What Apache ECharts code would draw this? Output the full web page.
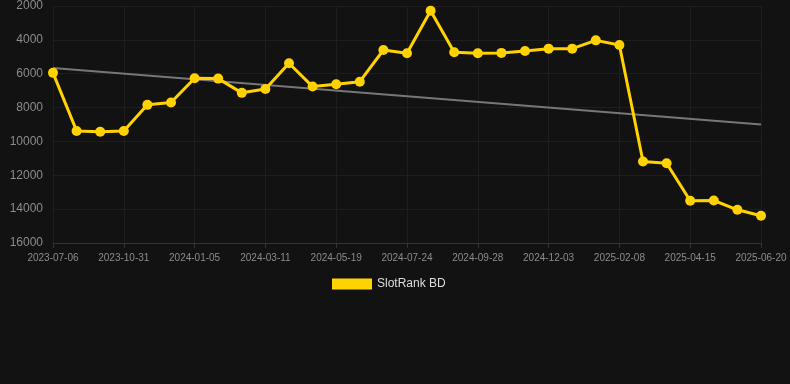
<!DOCTYPE html>
<html><head><meta charset="utf-8">
<script src="https://cdn.jsdelivr.net/npm/echarts@6/dist/echarts.min.js"></script>
<style>html,body{margin:0;padding:0;background:#121212;}#c{width:790px;height:384px;}</style>
</head><body><div id="c"></div>
<script>
const categories = ["2023-07-06","2023-08-14","2023-09-22","2023-10-31","2023-11-22","2023-12-14","2024-01-05","2024-01-27","2024-02-18","2024-03-11","2024-04-03","2024-04-26","2024-05-19","2024-06-10","2024-07-02","2024-07-24","2024-08-15","2024-09-06","2024-09-28","2024-10-20","2024-11-11","2024-12-03","2024-12-25","2025-01-17","2025-02-08","2025-03-02","2025-03-24","2025-04-15","2025-05-07","2025-05-29","2025-06-20"];
const rankValues = [5950,9380,9430,9380,7840,7700,6270,6290,7130,6900,5380,6760,6620,6470,4600,4790,2280,4730,4790,4770,4660,4520,4520,4030,4300,11190,11290,13500,13490,14040,14390];
const yTicks = [2000,16000,2000]; // min, max, interval
const seriesName = "SlotRank BD";

// linear regression trend
const n = rankValues.length;
const mx = (n-1)/2;
const my = rankValues.reduce((a,b)=>a+b,0)/n;
let sxy=0,sxx=0;
rankValues.forEach((v,i)=>{sxy+=(i-mx)*(v-my);sxx+=(i-mx)*(i-mx);});
const slope=sxy/sxx, icpt=my-slope*mx;
const trend = rankValues.map((v,i)=> (i===0||i===n-1) ? icpt+slope*i : null);

const chart = echarts.init(document.getElementById('c'));
chart.setOption({
  backgroundColor:'#121212',
  animation:false,
  grid:{left:53,right:29,top:6,bottom:141},
  legend:{
    top:273,left:327,itemWidth:40,itemHeight:11,itemGap:10,
    textStyle:{color:'#dddddd',fontSize:12,fontFamily:'Liberation Sans, Arial, sans-serif'},
    data:[{name:seriesName,icon:'rect'}]
  },
  xAxis:{
    type:'category',data:categories,boundaryGap:false,
    axisLine:{lineStyle:{color:'#333333'}},
    axisTick:{show:true,interval:2,lineStyle:{color:'#333333'}},
    axisLabel:{interval:2,color:'#8c8c8c',fontSize:10,margin:10,fontFamily:'Liberation Sans, Arial, sans-serif'},
    splitLine:{show:true,interval:2,lineStyle:{color:'#1e1e1e'}}
  },
  yAxis:{
    type:'value',inverse:true,min:yTicks[0],max:yTicks[1],interval:yTicks[2],
    axisLine:{show:false},axisTick:{show:false},
    axisLabel:{color:'#8c8c8c',fontSize:12,margin:10,formatter:v=>String(v),fontFamily:'Liberation Sans, Arial, sans-serif'},
    splitLine:{lineStyle:{color:'#1e1e1e'}}
  },
  series:[
    {name:seriesName,type:'line',data:rankValues,
     lineStyle:{color:'#ffd200',width:3},itemStyle:{color:'#ffd200'},
     symbol:'circle',symbolSize:10,z:3},
    {name:'trend',type:'line',data:trend,connectNulls:true,symbol:'none',
     lineStyle:{color:'#777777',width:2},z:2}
  ]
});
</script></body></html>
